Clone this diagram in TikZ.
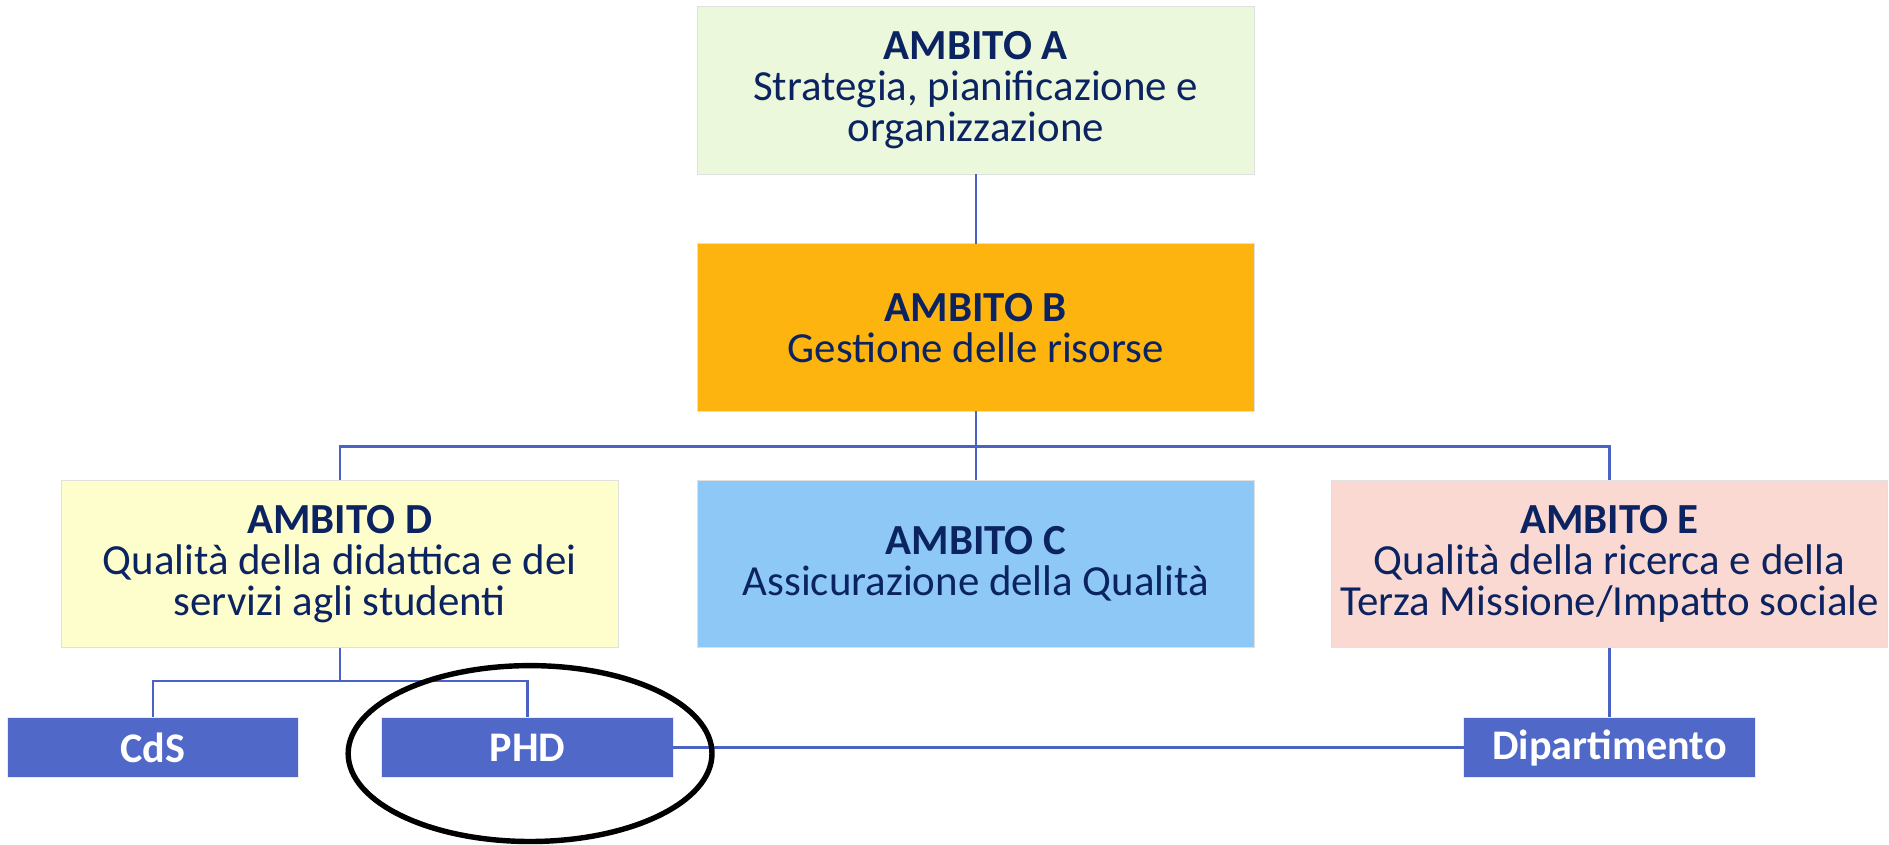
\documentclass[tikz,border=0pt]{standalone}
\usepackage{fontspec}
\setmainfont{Carlito}
\usetikzlibrary{positioning, shapes.geometric}
\definecolor{ambNavy}{HTML}{0B2361}
\definecolor{ambGreen}{HTML}{EBF8DC}
\definecolor{ambOrange}{HTML}{FDB40F}
\definecolor{ambYellow}{HTML}{FEFDCC}
\definecolor{ambBlue}{HTML}{8DC8F6}
\definecolor{ambPink}{HTML}{FBD9D3}
\definecolor{unitBlue}{HTML}{5068C8}
\definecolor{linkBlue}{HTML}{4A62C3}

\begin{document}
\begin{tikzpicture}[x=1pt, y=-1pt,
    ambito/.style={rectangle, minimum width=462pt, minimum height=139pt,
                   align=center, text=ambNavy, draw=black!12, line width=0.8pt,
                   outer sep=0pt, font=\fontsize{35.6pt}{34pt}\selectfont},
    unit/.style={rectangle, minimum width=242pt, minimum height=50pt,
                 fill=unitBlue, draw=black!8, line width=0.8pt, outer sep=0pt,
                 text=white, font=\fontsize{35pt}{34pt}\selectfont\bfseries},
    link/.style={draw=linkBlue, line width=2pt},
  ]
    \useasboundingbox (0,0) rectangle (1568,701);

    % top of the chart
    \node[ambito, fill=ambGreen] (A) at (810,75)
      {\textbf{AMBITO A}\\Strategia, pianificazione e\\organizzazione};
    \node[ambito, fill=ambOrange, below=58pt of A] (B)
      {\textbf{AMBITO B}\\Gestione delle risorse};

    % middle row
    \node[ambito, fill=ambBlue, below=57pt of B] (C)
      {\textbf{AMBITO C}\\Assicurazione della Qualità};
    \node[ambito, fill=ambYellow, left=66pt of C] (D)
      {\textbf{AMBITO D}\\Qualità della didattica e dei\\servizi agli studenti};
    \node[ambito, fill=ambPink, right=64pt of C] (E)
      {\textbf{AMBITO E}\\Qualità della ricerca e della\\Terza Missione/Impatto sociale};

    % units
    \node[unit, below=58pt of D, xshift=-155pt] (cds) {CdS};
    \node[unit, below=58pt of D, xshift=156pt] (phd) {PHD};
    \node[unit, below=58pt of E] (dip) {Dipartimento};

    % connectors
    \draw[link] (A) -- (B);
    \draw[link] (B) -- (C);
    \draw[link] (B.south) -- ++(0,29) -| (D.north);
    \draw[link] (B.south) -- ++(0,29) -| (E.north);
    \draw[link] (D.south) -- ++(0,28) -| (cds.north);
    \draw[link] (D.south) -- ++(0,28) -| (phd.north);
    \draw[link] (E) -- (dip);
    \draw[link] (phd) -- (dip);

    % highlight
    \node[ellipse, draw=black, line width=4.5pt, minimum width=302pt,
          minimum height=146pt, xshift=2pt, yshift=-5pt] (ring) at (phd) {};
  \end{tikzpicture}
\end{document}
